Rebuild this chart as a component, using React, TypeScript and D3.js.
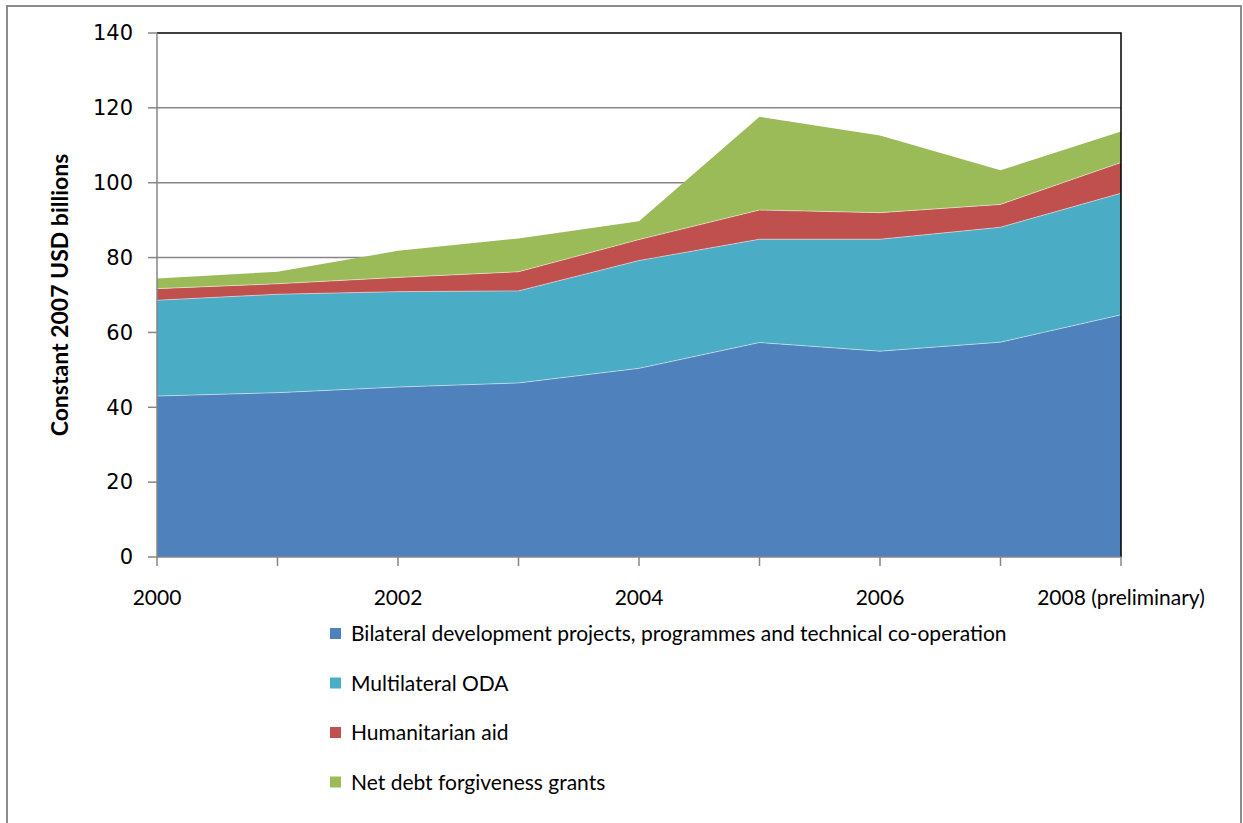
import React, { useEffect, useRef } from 'react';
import * as d3 from 'd3';

const years = [2000, 2001, 2002, 2003, 2004, 2005, 2006, 2007, 2008];
const yearLabels = ['2000', '', '2002', '', '2004', '', '2006', '', '2008 (preliminary)'];
const bilateral = [43.0, 43.9, 45.4, 46.5, 50.4, 57.3, 55.0, 57.4, 64.7];
const multilateral = [25.6, 26.3, 25.5, 24.6, 28.8, 27.6, 29.9, 30.7, 32.5];
const humanitarian = [3.1, 2.8, 3.8, 5.1, 5.6, 7.8, 7.1, 6.1, 8.2];
const debtRelief = [2.7, 3.2, 7.1, 8.9, 4.9, 24.9, 20.6, 9.1, 8.3];

const seriesNames = [
  'Bilateral development projects, programmes and technical co-operation',
  'Multilateral ODA',
  'Humanitarian aid',
  'Net debt forgiveness grants',
];
const seriesColors = ['#4f81bd', '#4bacc6', '#c0504d', '#9bbb59'];
const yTicks = [0, 20, 40, 60, 80, 100, 120, 140];

const W = 1243;
const H = 823;
const font = 'Lato, "Open Sans", sans-serif';

const App: React.FC = () => {
  const svgRef = useRef<SVGSVGElement>(null);

  useEffect(() => {
    if (!svgRef.current) return;
    const svg = d3.select(svgRef.current);
    svg.selectAll('*').remove();

    const left = 157, right = 1121, top = 33, bottom = 557;

    const table = years.map((y, i) => ({
      year: y,
      s0: bilateral[i],
      s1: multilateral[i],
      s2: humanitarian[i],
      s3: debtRelief[i],
    }));
    const keys = ['s0', 's1', 's2', 's3'];
    const stacked = d3.stack<any>().keys(keys)(table);

    const x = d3.scaleLinear().domain([2000, 2008]).range([left, right]);
    const y = d3.scaleLinear().domain([0, 140]).range([bottom, top]);

    // outer frame
    svg.append('path')
      .attr('d', `M7,${H} V6 H1241 V${H}`)
      .attr('fill', 'none')
      .attr('stroke', '#8c8c8c')
      .attr('stroke-width', 2);

    // gridlines
    svg.append('g')
      .selectAll('line')
      .data(yTicks.filter(t => t > 0 && t < 140))
      .join('line')
      .attr('x1', left).attr('x2', right)
      .attr('y1', d => y(d)).attr('y2', d => y(d))
      .attr('stroke', '#868686')
      .attr('stroke-width', 1.5);

    const area = d3.area<any>()
      .x(d => x(d.data.year))
      .y0(d => y(d[0]))
      .y1(d => y(d[1]));

    svg.append('g')
      .selectAll('path')
      .data(stacked)
      .join('path')
      .attr('d', area)
      .attr('fill', (_, i) => seriesColors[i]);

    // thin light edge on series tops
    const topLine = d3.line<any>().x(d => x(d.data.year)).y(d => y(d[1]));
    svg.append('g')
      .selectAll('path')
      .data(stacked.slice(0, 3))
      .join('path')
      .attr('d', topLine)
      .attr('fill', 'none')
      .attr('stroke', '#ffffff')
      .attr('stroke-opacity', 0.6)
      .attr('stroke-width', 0.8);

    // plot border top/right
    svg.append('path')
      .attr('d', `M${left},${top} H${right} V${bottom}`)
      .attr('fill', 'none')
      .attr('stroke', '#000')
      .attr('stroke-width', 1.5);

    // y axis
    const yAxis = svg.append('g');
    yAxis.append('line')
      .attr('x1', left).attr('x2', left)
      .attr('y1', top).attr('y2', bottom)
      .attr('stroke', '#868686').attr('stroke-width', 1.5);
    yAxis.selectAll('line.tick')
      .data(yTicks)
      .join('line')
      .attr('class', 'tick')
      .attr('x1', left - 9).attr('x2', left)
      .attr('y1', d => y(d)).attr('y2', d => y(d))
      .attr('stroke', '#868686').attr('stroke-width', 1.5);
    yAxis.selectAll('text')
      .data(yTicks)
      .join('text')
      .attr('x', 133)
      .attr('y', d => y(d))
      .attr('dy', '0.35em')
      .attr('text-anchor', 'end')
      .attr('font-family', '"DejaVu Sans", Verdana, sans-serif')
      .attr('font-size', 21)
      .attr('fill', '#000')
      .text(d => d);

    // x axis
    const xAxis = svg.append('g');
    xAxis.append('line')
      .attr('x1', left).attr('x2', right)
      .attr('y1', bottom).attr('y2', bottom)
      .attr('stroke', '#868686').attr('stroke-width', 1.5);
    xAxis.selectAll('line.tick')
      .data(years)
      .join('line')
      .attr('class', 'tick')
      .attr('x1', d => x(d)).attr('x2', d => x(d))
      .attr('y1', bottom).attr('y2', bottom + 9)
      .attr('stroke', '#868686').attr('stroke-width', 1.5);
    xAxis.selectAll('text')
      .data(years)
      .join('text')
      .attr('x', d => x(d))
      .attr('y', 598)
      .attr('dy', '0.35em')
      .attr('text-anchor', 'middle')
      .attr('font-family', font)
      .attr('font-size', 21)
      .attr('fill', '#000')
      .text((_, i) => yearLabels[i]);

    // y title
    svg.append('text')
      .attr('transform', `translate(60,295) rotate(-90)`)
      .attr('dy', '0.35em')
      .attr('text-anchor', 'middle')
      .attr('font-family', font)
      .attr('font-weight', 700)
      .attr('font-size', 23)
      .attr('fill', '#000')
      .text('Constant 2007 USD billions');

    // legend
    const legend = svg.append('g')
      .selectAll('g')
      .data(seriesNames)
      .join('g')
      .attr('transform', (_, i) => `translate(330,${634 + i * 49.5})`);
    legend.append('rect')
      .attr('x', 0).attr('y', -6)
      .attr('width', 11).attr('height', 11)
      .attr('fill', (_, i) => seriesColors[i]);
    legend.append('text')
      .attr('x', 21)
      .attr('y', 0)
      .attr('dy', '0.35em')
      .attr('font-family', font)
      .attr('font-size', 21)
      .attr('fill', '#000')
      .text(d => d);
  }, []);

  return (
    <svg
      ref={svgRef}
      width={W}
      height={H}
      style={{ position: 'absolute', left: 0, top: 0, background: '#fff' }}
    />
  );
};

export default App;
